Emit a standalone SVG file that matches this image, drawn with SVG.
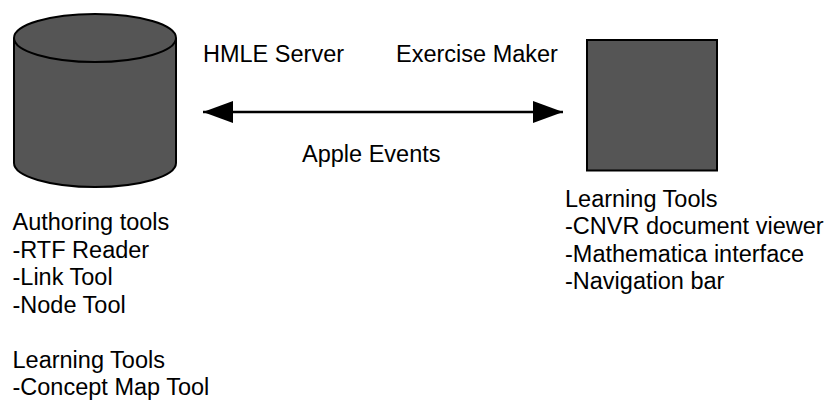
<svg xmlns="http://www.w3.org/2000/svg" width="830" height="408" viewBox="0 0 830 408">
  <style>
    .shape { fill: #555555; stroke: #000000; stroke-width: 2; }
    .label { font-family: "Liberation Sans", Arial, sans-serif; font-size: 23.5px; fill: #000000; }
    .conn { stroke: #000000; stroke-width: 2.4; fill: none; }
  </style>
  <defs>
    <marker id="arrowhead" viewBox="0 0 30 22" refX="30" refY="11" markerWidth="30" markerHeight="22" markerUnits="userSpaceOnUse" orient="auto-start-reverse">
      <path d="M0,0 L30,11 L0,22 Z" fill="#000000"/>
    </marker>
  </defs>

  <rect width="830" height="408" fill="#ffffff"/>

  <!-- Database cylinder: authoring side -->
  <g id="hmle-server">
    <path class="shape" d="M14,38 L14,163 A81,24 0 0 0 176,163 L176,38"/>
    <ellipse class="shape" cx="95" cy="38" rx="81" ry="24"/>
    <text class="label" x="12.5" y="230">Authoring tools</text>
    <text class="label" x="12.5" y="257.5">-RTF Reader</text>
    <text class="label" x="12.5" y="285">-Link Tool</text>
    <text class="label" x="12.5" y="312.5">-Node Tool</text>
    <text class="label" x="12.5" y="367.5">Learning Tools</text>
    <text class="label" x="12.5" y="395">-Concept Map Tool</text>
  </g>

  <!-- Client box: learning side -->
  <g id="exercise-maker">
    <rect class="shape" x="587" y="40" width="130" height="130.5" stroke-width="2.5"/>
    <text class="label" x="565" y="206.5">Learning Tools</text>
    <text class="label" x="565" y="234">-CNVR document viewer</text>
    <text class="label" x="565" y="261.5">-Mathematica interface</text>
    <text class="label" x="565" y="289">-Navigation bar</text>
  </g>

  <g id="titles">
    <text class="label" x="203" y="62">HMLE Server</text>
    <text class="label" x="396" y="62">Exercise Maker</text>
  </g>

  <!-- Two-way message link -->
  <g id="connectors">
    <line class="conn" x1="203" y1="112" x2="563" y2="112" marker-start="url(#arrowhead)" marker-end="url(#arrowhead)"/>
    <text class="label" x="302" y="162">Apple Events</text>
  </g>
</svg>
